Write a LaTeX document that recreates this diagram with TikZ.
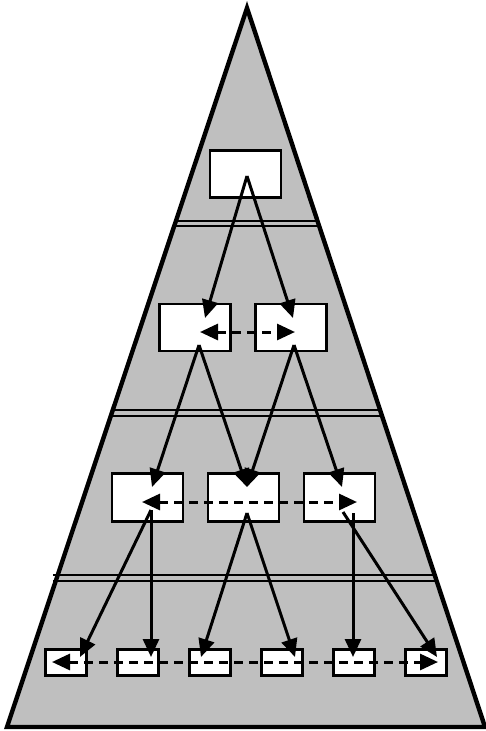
\documentclass[tikz,border=0pt]{standalone}
\usetikzlibrary{arrows.meta}

\begin{document}
\begin{tikzpicture}[
        x=1pt, y=-1pt,
        >={Triangle[length=18pt, width=16pt]},
        page/.style={draw, fill=white, line width=2.8pt, inner sep=0pt,
            minimum width=71pt, minimum height=47pt},
        leaf/.style={page, minimum width=41pt, minimum height=26pt},
        link/.style={->, line width=3pt},
        sibling/.style={<->, line width=3pt, dash pattern=on 9pt off 6pt},
        sep/.style={line width=2.6pt}
    ]
        \useasboundingbox (0,0) rectangle (486,731);

        % Index triangle
        \filldraw[fill=gray!50, line width=4.4pt, line join=miter]
            (247,8) -- (485,727) -- (7,727) -- cycle;

        % Level separators (double lines)
        \foreach \y/\l/\r in {221/176/318, 226/175/319,
                              410/113/380, 416/111/381,
                              575/53/437, 581/53/437} {
            \draw[sep] (\l,\y) -- (\r,\y);
        }

        % Root
        \node[page] (r) at (245.5,174) {};

        % Inner level
        \node[page] (i1) at (195,327.5) {};
        \node[page] (i2) at (291,327.5) {};

        % Middle level
        \foreach \n/\x in {1/147.5, 2/243.5, 3/339.5} {
            \node[page, minimum height=48pt] (m\n) at (\x,497.5) {};
        }

        % Leaves
        \foreach \n/\x in {1/66, 2/138, 3/210, 4/282, 5/354, 6/426} {
            \node[leaf] (l\n) at (\x,662.5) {};
        }

        % Pointer ends inside the pages
        \coordinate (r-out) at (247,176);
        \coordinate (i1-in) at (205,318);
        \coordinate (i2-in) at (293,318);
        \coordinate (i1-out) at (199,345);
        \coordinate (i2-out) at (294,345);
        \coordinate (i1-sib) at (200,332);
        \coordinate (i2-sib) at (295,332);
        \coordinate (m1-in) at (152,487);
        \coordinate (m2-in) at (247,487);
        \coordinate (m3-in) at (342,487);
        \coordinate (m1-out) at (151,510);
        \coordinate (m2-out) at (247,513);
        \coordinate (m3-out) at (343,512);
        \coordinate (m3-down) at (353,513);
        \coordinate (m1-sib) at (142,502);
        \coordinate (m3-sib) at (357,502);
        \foreach \n/\x in {1/80, 2/151, 3/201, 4/295, 5/353, 6/437} {
            \coordinate (l\n-in) at (\x,657);
        }
        \coordinate (l1-sib) at (52,662);
        \coordinate (l6-sib) at (438,662);

        % Child pointers
        \foreach \a/\b in {r-out/i1-in, r-out/i2-in,
                           i1-out/m1-in, i1-out/m2-in, i2-out/m2-in, i2-out/m3-in,
                           m1-out/l1-in, m1-out/l2-in, m2-out/l3-in, m2-out/l4-in,
                           m3-down/l5-in, m3-out/l6-in} {
            \draw[link] (\a) -- (\b);
        }

        % Sibling pointers
        \draw[sibling] (i1-sib) -- (i2-sib);
        \draw[sibling] (m1-sib) -- (m3-sib);
        \draw[sibling] (l1-sib) -- (l6-sib);

    \end{tikzpicture}
\end{document}
